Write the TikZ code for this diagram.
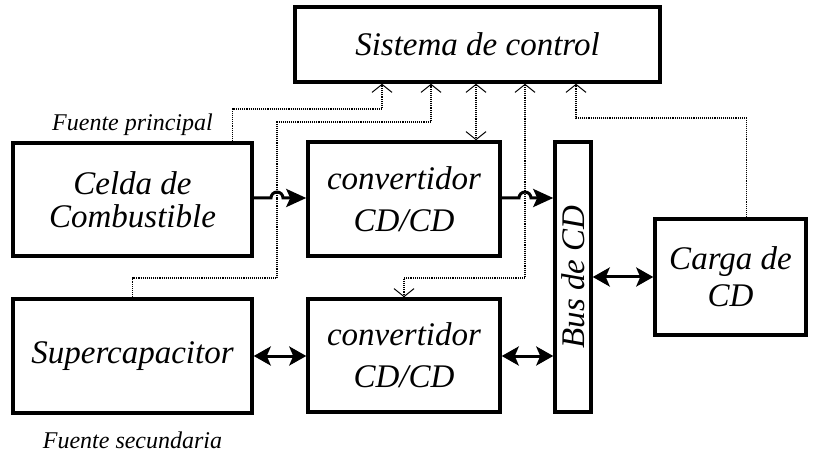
\documentclass[tikz,border=0pt]{standalone}
\usepackage{fontspec}
\setmainfont{Liberation Serif}
\usetikzlibrary{positioning, arrows.meta, calc}

\begin{document}
\begin{tikzpicture}[
    x=1pt, y=-1pt,
    block/.style={rectangle, draw=black, line width=3.5pt, inner sep=0pt,
                  font=\fontsize{33}{38}\selectfont\itshape, align=center},
    power/.style={-{Stealth[length=20pt, width=18pt, inset=4pt]}, line width=3pt},
    bipower/.style={{Stealth[length=17pt, width=19pt, inset=4pt]}-{Stealth[length=17pt, width=19pt, inset=4pt]}, line width=3pt},
    ctrl/.style={densely dotted, line width=1.1pt, -{Straight Barb[length=8pt, width=20pt, line width=1pt]}},
    bictrl/.style={ctrl, {Straight Barb[length=8pt, width=20pt, line width=1pt]}-{Straight Barb[length=8pt, width=20pt, line width=1pt]}},
    tag/.style={font=\fontsize{24}{28}\selectfont\itshape}
]
    \useasboundingbox (0,0) rectangle (820,457);

    % Control system
    \node[block, minimum width=365pt, minimum height=75pt] (sis) at (477.5, 44.5) {Sistema de control};

    % Sources
    \node[block, minimum width=239pt, minimum height=113pt,
          font=\fontsize{33}{33}\selectfont\itshape] (celda) at (132.5, 199.5) {Celda de\\Combustible};
    \node[tag, above=2pt of celda] (fp) {Fuente principal};
    \node[block, minimum width=239pt, minimum height=114pt] (sc) at (132.5, 356) {Supercapacitor};
    \node[tag, below=14pt of sc] (fs) {Fuente secundaria};

    % Converters
    \node[block, minimum width=192pt, minimum height=114pt,
          font=\fontsize{33}{42}\selectfont\itshape] (conv1) at (404, 199) {convertidor\\CD/CD};
    \node[block, minimum width=192pt, minimum height=113pt,
          font=\fontsize{33}{42}\selectfont\itshape] (conv2) at (404, 355.5) {convertidor\\CD/CD};

    % DC bus and load
    \node[block, minimum width=36pt, minimum height=270pt] (bus) at (573, 277) {};
    \node[rotate=90, font=\fontsize{33}{38}\selectfont\itshape] (buslbl) at (bus.center) {Bus de CD};
    \node[block, minimum width=151pt, minimum height=116pt,
          font=\fontsize{33}{37}\selectfont\itshape] (carga) at (730.5, 277) {Carga de\\CD};

    % Control signals
    \coordinate (j1) at (277, 198);
    \coordinate (j2) at (525, 198);
    \draw[ctrl] ([xshift=100pt]celda.north) |- (382, 109) -- (382, 0 |- sis.south);
    \draw[ctrl] (sc.north) |- (277, 278) -- (j1) -- (277, 122) -| (431, 0 |- sis.south);
    \draw[bictrl] (476, 0 |- sis.south) -- (476, 0 |- conv1.north);
    \draw[bictrl] (525, 0 |- sis.south) -- (j2) -- (525, 278) -| (conv2.north);
    \draw[ctrl] ([xshift=16pt]carga.north) |- (576, 118) -- (576, 0 |- sis.south);

    % Power flow
    \draw[power] (celda.east |- j1) -- ([xshift=-6pt]j1) arc (180:0:6pt) -- (conv1.west |- j1);
    \draw[power] (conv1.east |- j2) -- ([xshift=-6pt]j2) arc (180:0:6pt) -- (bus.west |- j2);
    \draw[bipower] (sc.east) -- (conv2.west |- sc.east);
    \draw[bipower] (conv2.east |- sc.east) -- (bus.west |- sc.east);
    \draw[bipower] (bus.east |- carga.west) -- (carga.west);

\end{tikzpicture}
\end{document}
